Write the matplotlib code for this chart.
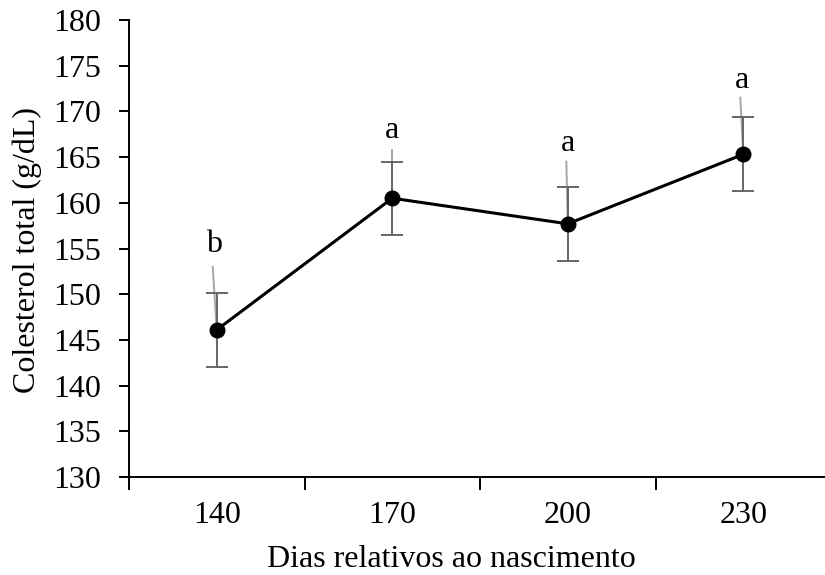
import numpy as np
import matplotlib.pyplot as plt

# data
dias = ['140', '170', '200', '230']
colesterol = [146.1, 160.5, 157.7, 165.3]
erro = [4.05, 4.0, 4.05, 4.05]
letras = ['b', 'a', 'a', 'a']

plt.rcParams['font.family'] = ['Liberation Serif', 'DejaVu Serif']

fig = plt.figure(figsize=(8.25, 5.75), dpi=100)
W, H = 825, 575
# plot area in pixels: x 129..831, y 20..477
ax = fig.add_axes([129 / W, 1 - 477 / H, 702 / W, 457 / H])

x = np.arange(len(dias))
ax.errorbar(x, colesterol, yerr=erro, fmt='none', ecolor='#666666',
            elinewidth=1.4, capsize=8, capthick=1.4, zorder=2)
ax.plot(x, colesterol, color='black', lw=2.2, marker='o', ms=10.5, zorder=3)

# letters with gray leader lines
lbl_x = [-0.017, 0.0, 0.0, -0.006]
lbl_y = [155.4, 167.9, 166.5, 173.4]
lead_top = [153.0, 165.8, 164.5, 171.5]
lead_x = [-0.023, 0.0, -0.008, -0.017]
for xi, yi, t, lx, ly, lt, ldx in zip(x, colesterol, letras, lbl_x, lbl_y, lead_top, lead_x):
    ax.plot([xi + ldx, xi], [lt, yi], color='#a6a6a6', lw=1.4, zorder=1)
    ax.text(xi + lx, ly, t, ha='center', va='center', fontsize=23)

ax.set_xlim(-0.5, 3.5)
ax.set_ylim(130, 180)
ax.set_yticks(np.arange(130, 181, 5))
ax.set_xticks(x)
ax.set_xticklabels(dias)
ax.tick_params(axis='x', length=0, labelsize=23, pad=17)
ax.set_xticks(np.arange(-0.5, 3.6, 1), minor=True)
ax.tick_params(axis='x', which='minor', length=9, width=1.4, direction='out')
ax.tick_params(axis='y', length=7, width=1.4, labelsize=23, pad=13)

for s in ['top', 'right']:
    ax.spines[s].set_visible(False)
for s in ['left', 'bottom']:
    ax.spines[s].set_linewidth(1.4)

fig.text(27 / W, 1 - 250 / H, 'Colesterol total (g/dL)', rotation=90,
         ha='center', va='center', fontsize=23)
fig.text(451 / W, 1 - 567 / H, 'Dias relativos ao nascimento',
         ha='center', va='baseline', fontsize=23)

fig.savefig('out.png', dpi=100)
